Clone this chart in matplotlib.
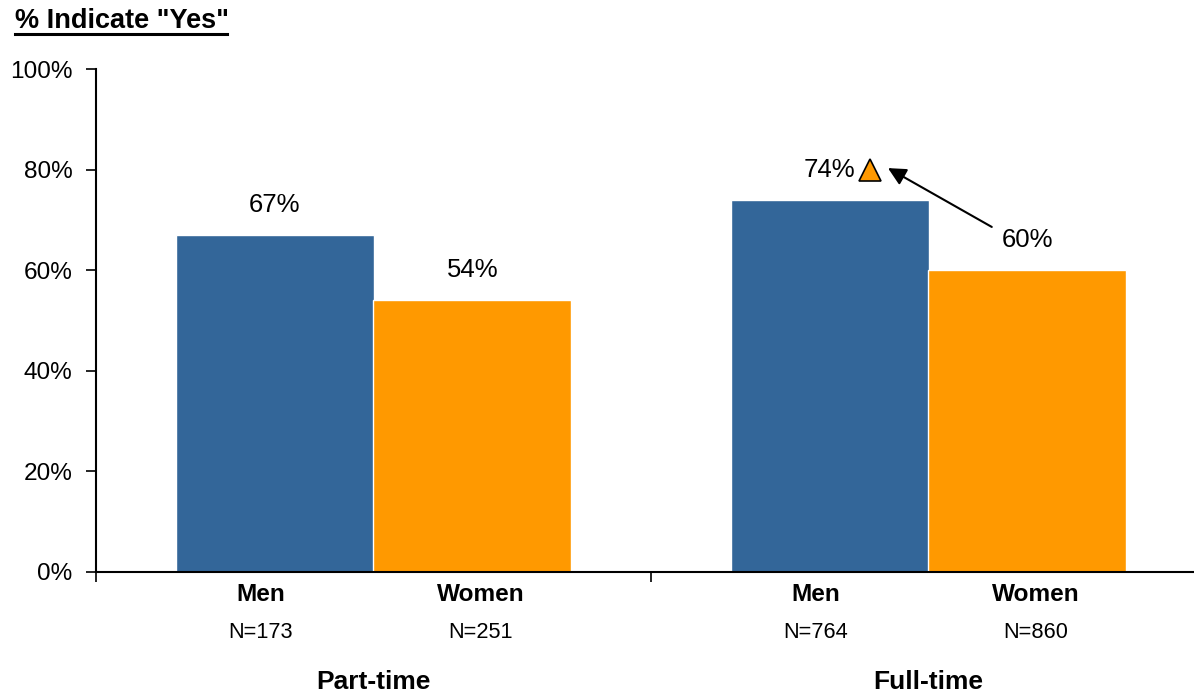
import matplotlib
matplotlib.use("Agg")
import matplotlib.pyplot as plt
from matplotlib.transforms import blended_transform_factory
import numpy as np

plt.rcParams['font.family'] = ['Liberation Sans', 'DejaVu Sans']

groups = ["Part-time", "Full-time"]
genders = ["Men", "Women"]
values = {"Men": [67, 74], "Women": [54, 60]}
counts = {"Men": [173, 764], "Women": [251, 860]}
colors = {"Men": "#336699", "Women": "#FF9900"}
yticks = [0, 20, 40, 60, 80, 100]

fig = plt.figure(figsize=(11.94, 6.94), dpi=100)
ax = fig.add_axes([96 / 1194, 122 / 694, 1110 / 1194, 503 / 694])

centers = np.arange(len(groups)) + 0.5
offset = 0.178
width = 0.357
shifts = {"Men": -offset, "Women": offset}
label_shifts = {"Men": -0.203, "Women": 0.193}

for g in genders:
    xs = centers + shifts[g]
    ax.bar(xs, values[g], width=width, color=colors[g], edgecolor="white",
           linewidth=1.0, zorder=2)

ax.set_xlim(0, len(groups))
ax.set_ylim(0, 100)
ax.set_yticks(yticks)
ax.set_yticklabels([f"{t}%" for t in yticks], fontsize=17.6)
ax.set_xticks(np.arange(len(groups) + 1))
ax.set_xticklabels([])
ax.tick_params(axis="both", direction="out", length=7, width=1.2, color="black")
ax.tick_params(axis="y", pad=10)
for side in ("top", "right"):
    ax.spines[side].set_visible(False)
for side in ("left", "bottom"):
    ax.spines[side].set_linewidth(1.5)

# value labels above bars
for g in genders:
    for i, v in enumerate(values[g]):
        x = centers[i] + shifts[g]
        ax.annotate(f"{v}%", (x, v), xytext=(0, 30), textcoords="offset pixels",
                    ha="center", va="center", fontsize=18.5)

# significance marker and arrow from Full-time women to Full-time men
ax.plot([1.395], [values["Men"][1] + 6], marker="^", markersize=16.5,
        color="#FF9900", markeredgecolor="black", markeredgewidth=1.2,
        linestyle="none", clip_on=False, zorder=3)
ax.annotate("", xy=(1.427, 80.3), xytext=(1.614, 68.6),
            arrowprops=dict(arrowstyle="-|>", color="black", lw=1.5,
                            mutation_scale=27, shrinkA=0, shrinkB=0))

trans = blended_transform_factory(ax.transData, ax.transAxes)
for i, grp in enumerate(groups):
    for g in genders:
        x = centers[i] + label_shifts[g]
        ax.text(x, -0.044, g, transform=trans, ha="center", va="center",
                fontsize=17.6, fontweight="bold")
        ax.text(x, -0.121, f"N={counts[g][i]}", transform=trans, ha="center",
                va="center", fontsize=15.7)
    ax.text(centers[i], -0.2195, grp, transform=trans, ha="center", va="center",
            fontsize=19, fontweight="bold")

fig.text(15 / 1194, 1 - 21 / 694, '% Indicate "Yes"', ha="left", va="center",
         fontsize=19.5, fontweight="bold")
fig.add_artist(plt.Line2D([15 / 1194, 227 / 1194], [1 - 34 / 694, 1 - 34 / 694],
                          color="black", linewidth=2.2))

fig.savefig("out.png", dpi=100)
